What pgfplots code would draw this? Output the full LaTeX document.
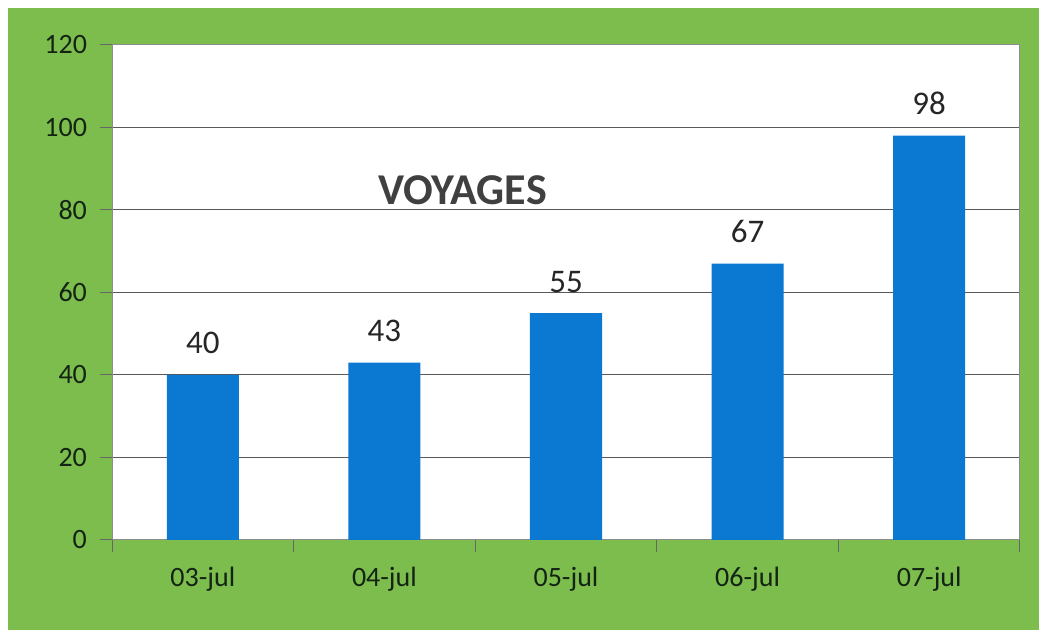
\documentclass[border=0pt]{standalone}
\usepackage{pgfplots}
\pgfplotsset{compat=1.18}
\usepackage{fontspec}
\setmainfont{Carlito}
\definecolor{bggreen}{HTML}{7CBD4E}
\definecolor{barblue}{HTML}{0B78D2}
\definecolor{txt}{HTML}{142414}
\begin{document}
\begin{tikzpicture}
\fill[white] (0,0) rectangle (519.5pt,315pt);
\fill[bggreen] (4pt,0) rectangle (519.5pt,311pt);
\begin{axis}[
  at={(56pt,45pt)}, anchor=south west,
  width=454pt, height=247.5pt, scale only axis,
  axis background/.style={fill=white},
  ymin=0, ymax=120, ytick={0,20,...,120},
  xmin=-0.5, xmax=4.5,
  xtick={-0.5,0.5,1.5,2.5,3.5,4.5},
  x tick label as interval,
  xticklabels={03-jul,04-jul,05-jul,06-jul,07-jul},
  tick align=outside, tick pos=left,
  major tick length=6pt,
  tick style={black!60, line width=0.5pt},
  ymajorgrids,
  grid style={black!65, line width=0.5pt},
  axis line style={black!45, line width=0.5pt},
  ticklabel style={font=\fontsize{14}{14}\selectfont, text=txt},
  /pgf/number format/assume math mode=true,
  xticklabel style={yshift=-4pt},
  yticklabel style={xshift=-3pt},
  ybar, bar width=36pt,
  nodes near coords,
  every node near coord/.append style={font=\fontsize{16.5}{16.5}\selectfont, text=black!85, anchor=base, yshift=10.5pt},
]
\addplot[fill=barblue, draw=none] coordinates {(0,40) (1,43) (2,55) (3,67) (4,98)};
\node[font=\bfseries\fontsize{22}{22}\selectfont, text=black!75] at (1.43,84.8) {VOYAGES};
\end{axis}
\end{tikzpicture}
\end{document}
